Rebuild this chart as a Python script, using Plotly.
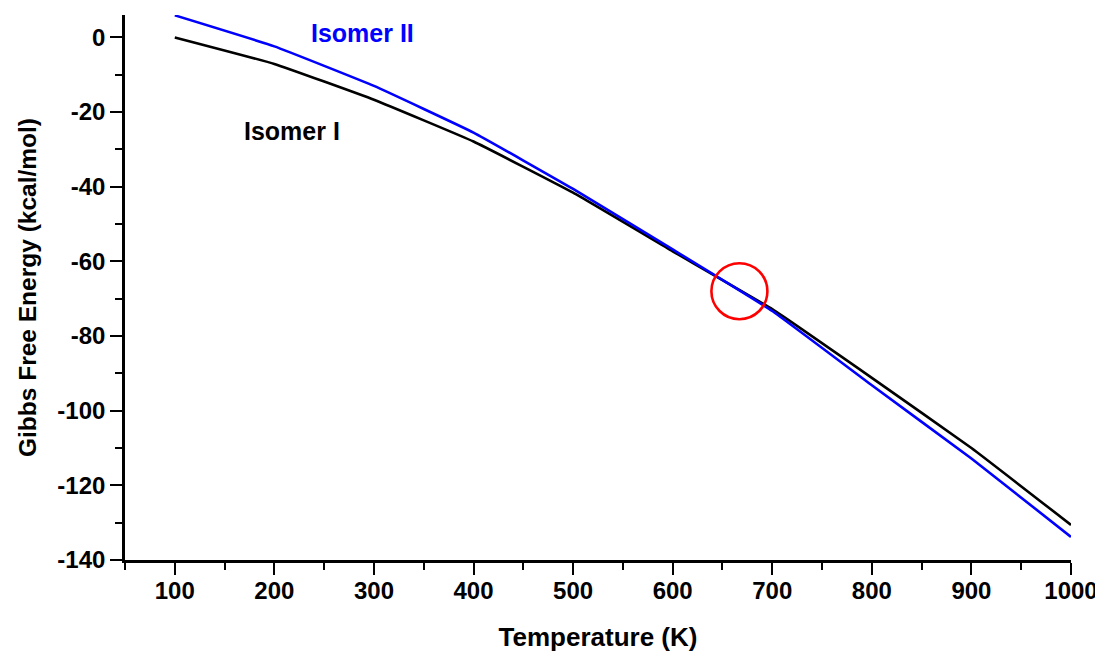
import plotly.graph_objects as go

temperature_K = [100, 200, 300, 400, 500, 600, 700, 800, 900, 1000]
isomer_I = [0.0, -7.1, -16.7, -27.9, -41.6, -57.3, -72.8, -91.2, -110.0, -130.6]
isomer_II = [5.9, -2.4, -13.0, -25.5, -40.6, -56.8, -73.3, -93.2, -112.8, -133.8]

label_I = {"text": "Isomer I", "x": 218, "y": -25.0}
label_II = {"text": "Isomer II", "x": 288, "y": 1.3}
crossing = {"x": 667, "y": -68}

x_ticks = [100, 200, 300, 400, 500, 600, 700, 800, 900, 1000]
y_ticks = [0, -20, -40, -60, -80, -100, -120, -140]

FONT = "Liberation Sans, Arial, sans-serif"

fig = go.Figure()
fig.add_trace(go.Scatter(x=temperature_K, y=isomer_I, mode="lines",
                         line=dict(color="black", width=2.6, shape="spline", smoothing=0.3),
                         name="Isomer I", showlegend=False))
fig.add_trace(go.Scatter(x=temperature_K, y=isomer_II, mode="lines",
                         line=dict(color="#0000ff", width=2.6, shape="spline", smoothing=0.3),
                         name="Isomer II", showlegend=False))

fig.add_annotation(x=label_II["x"], y=label_II["y"], text="<b>%s</b>" % label_II["text"],
                   showarrow=False, font=dict(family=FONT, size=25, color="#0000ff"))
fig.add_annotation(x=label_I["x"], y=label_I["y"], text="<b>%s</b>" % label_I["text"],
                   showarrow=False, font=dict(family=FONT, size=25, color="black"))

fig.add_shape(type="circle", xref="x", yref="y", xsizemode="pixel", ysizemode="pixel",
              xanchor=crossing["x"], yanchor=crossing["y"],
              x0=-28, x1=28, y0=-28, y1=28,
              line=dict(color="red", width=2.6))

axis_common = dict(
    showline=True, linecolor="black", linewidth=2.6,
    ticks="outside", ticklen=12, tickwidth=2.4, tickcolor="black",
    showgrid=False, zeroline=False, mirror=False, automargin=False,
    tickfont=dict(family=FONT, size=24, color="black"),
)

fig.update_xaxes(
    range=[50, 1000], tickvals=x_ticks,
    ticktext=["<b>%d</b>" % v for v in x_ticks],
    ticklabelstandoff=-5,
    minor=dict(ticks="outside", ticklen=7, tickwidth=2.4, tickcolor="black", dtick=50, tick0=0),
    title=dict(text="<b>Temperature (K)</b>", font=dict(family=FONT, size=26, color="black"),
               standoff=26),
    **axis_common,
)
fig.update_yaxes(
    range=[-140, 6], tickvals=y_ticks,
    ticktext=["<b>%d</b>" % v for v in y_ticks],
    minor=dict(ticks="outside", ticklen=7, tickwidth=2.4, tickcolor="black", dtick=10, tick0=0),
    title=dict(text="<b>Gibbs Free Energy (kcal/mol)</b>",
               font=dict(family=FONT, size=24.5, color="black"), standoff=14),
    **axis_common,
)

# the page body has an 8px margin, so the figure is offset by (8, 8)
fig.update_layout(
    width=1095, height=649,
    margin=dict(l=117, r=32, t=7, b=97),
    plot_bgcolor="white", paper_bgcolor="white",
    showlegend=False,
)

fig.write_html("out.html")
